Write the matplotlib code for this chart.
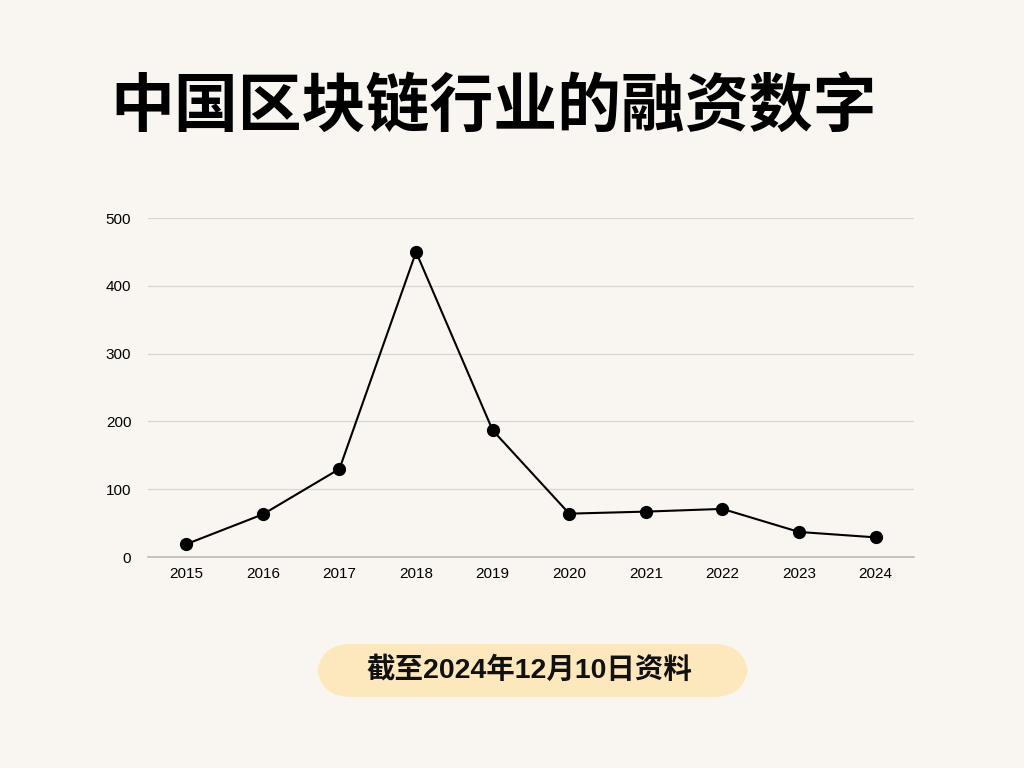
import matplotlib.pyplot as plt
from matplotlib.patches import FancyBboxPatch

years = ['2015', '2016', '2017', '2018', '2019', '2020', '2021', '2022', '2023', '2024']
funding = [19, 63, 130, 450, 187, 64, 67, 71, 37, 29]
y_ticks = [0, 100, 200, 300, 400, 500]

title = '中国区块链行业的融资数字'
note = '截至2024年12月10日资料'

bg = '#f9f6f1'
plt.rcParams['font.family'] = ['Noto Sans CJK SC', 'DejaVu Sans']

fig = plt.figure(figsize=(10.24, 7.68), dpi=100, facecolor=bg)
ax = fig.add_axes([0.1445, 0.2747, 0.748, 0.4413])
ax.set_facecolor(bg)

x = range(len(years))
ax.plot(x, funding, color='black', lw=1.5, marker='o', markersize=8.5, zorder=3)

ax.set_xlim(-0.5, len(years) - 0.5)
ax.set_ylim(0, 500)
ax.set_xticks(list(x))
ax.set_xticklabels(years, family='Liberation Sans', fontsize=11)
ax.set_yticks(y_ticks)
ax.set_yticklabels([str(v) for v in y_ticks], family='Liberation Sans', fontsize=11)
ax.tick_params(length=0, pad=7)
ax.tick_params(axis='y', pad=12)
ax.grid(axis='y', color='#d9d6d1', lw=0.9)
ax.set_axisbelow(True)
for side in ['top', 'right', 'left']:
    ax.spines[side].set_visible(False)
ax.spines['bottom'].set_color('#bdbab5')
ax.spines['bottom'].set_linewidth(1.2)
ax.spines['bottom'].set_zorder(2)

fig.text(0.482, 0.861, title, ha='center', va='center', fontsize=46,
         fontweight='heavy', color='black')

pill = FancyBboxPatch((317 / 1024, 1 - 697 / 768), 431 / 1024, 53 / 768,
                      boxstyle='round,pad=0,rounding_size=0.034',
                      transform=fig.transFigure, facecolor='#fde7bd',
                      edgecolor='none', mutation_aspect=1.33)
fig.patches.append(pill)
fig.text(0.5165, 1 - 670 / 768, note, ha='center', va='center', fontsize=20.5,
         fontweight='bold', color='#111111',
         family=['Liberation Sans', 'Noto Sans CJK SC'])

fig.savefig('out.png', dpi=100, facecolor=bg)
